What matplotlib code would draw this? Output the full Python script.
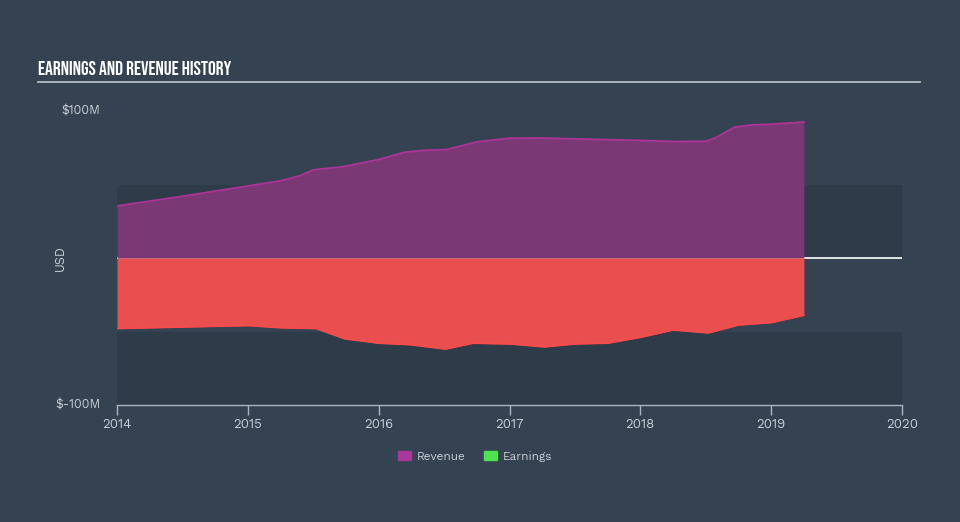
import matplotlib
matplotlib.use("Agg")
import matplotlib.pyplot as plt
from matplotlib.patches import Patch

# Data (USD millions), decimal years
rev_t = [2014.00, 2014.25, 2014.50, 2014.75, 2015.00, 2015.25, 2015.40, 2015.50, 2015.72,
         2016.00, 2016.20, 2016.35, 2016.52, 2016.75, 2017.00, 2017.25, 2017.50, 2017.75,
         2018.00, 2018.25, 2018.50, 2018.58, 2018.72, 2018.85, 2019.00, 2019.25]
rev_v = [35.4, 38.7, 42.0, 45.5, 49.0, 52.5, 56.0, 60.0, 62.0,
         67.0, 72.0, 73.2, 73.8, 79.0, 81.5, 81.6, 81.0, 80.5,
         80.0, 79.2, 79.4, 82.0, 89.0, 90.5, 91.0, 92.5]

earn_t = [2014.00, 2014.25, 2014.50, 2014.75, 2015.00, 2015.25, 2015.52, 2015.74,
          2016.00, 2016.24, 2016.51, 2016.72, 2017.00, 2017.27, 2017.50, 2017.75,
          2018.00, 2018.25, 2018.52, 2018.75, 2019.00, 2019.25]
earn_v = [-48.0, -47.5, -47.0, -46.5, -46.0, -47.5, -48.0, -55.0,
          -58.0, -59.0, -62.0, -58.0, -58.5, -60.5, -58.5, -58.0,
          -54.0, -49.0, -51.0, -45.6, -44.0, -39.0]

years = [2014, 2015, 2016, 2017, 2018, 2019, 2020]
ytick_vals = [100, -100]
ytick_labels = ["$100M", "$-100M"]

BG = "#344251"
BAND = "#2e3b49"
TXT = "#c9d0d8"
FONT = ["Work Sans", "DejaVu Sans"]
TFONT = ["Bebas Neue", "Oswald", "DejaVu Sans"]

fig = plt.figure(figsize=(9.6, 5.22), dpi=100, facecolor=BG)
ax = fig.add_axes([117/960, 1-405/522, (902-117)/960, (405-111)/522])
ax.set_facecolor(BG)
ax.set_xlim(2014, 2020)
ax.set_ylim(-100, 100)

ax.axhspan(0, 50, color=BAND, zorder=0, lw=0)
ax.axhspan(-100, -50, color=BAND, zorder=0, lw=0)
ax.axhline(0, color="white", lw=1.2, zorder=1)

ax.fill_between(rev_t, 0, rev_v, color="#7a3875", lw=0, zorder=2)
ax.plot(rev_t, rev_v, color="#b03399", lw=1.3, zorder=3)
ax.fill_between(earn_t, 0, earn_v, color="#e94f4f", lw=0, zorder=2)
ax.plot(earn_t, earn_v, color="#ff4a4a", lw=1.1, zorder=3)

for s in ["top", "right", "left"]:
    ax.spines[s].set_visible(False)
ax.spines["bottom"].set_color("#aab4c0")
ax.spines["bottom"].set_linewidth(1)

ax.set_xticks(years)
ax.set_xticklabels([str(y) for y in years], family=FONT)
ax.tick_params(axis="x", colors="#aab4c0", labelcolor=TXT, length=7, width=1, labelsize=9.5, pad=2)
ax.set_yticks(ytick_vals)
ax.set_yticklabels(ytick_labels, family=FONT)
ax.tick_params(axis="y", length=0, labelcolor=TXT, labelsize=9, pad=12)
ax.get_yticklabels()[0].set_va("center")
ax.get_yticklabels()[1].set_va("center")

fig.text(60/960, 1-258/522, "USD", rotation=90, color=TXT, fontsize=9, family=FONT,
         ha="center", va="center")

fig.text(38/960, 1-68/522, "EARNINGS AND REVENUE HISTORY", color="white", fontsize=14,
         fontweight="bold", family=TFONT, ha="left", va="center")
fig.add_artist(plt.Line2D([38/960, 920/960], [1-82/522, 1-82/522], color="#b5bcc4", lw=1.3))

handles = [Patch(color="#a8379b", label="Revenue"), Patch(color="#4fe04f", label="Earnings")]
leg = fig.legend(handles=handles, loc="center", bbox_to_anchor=(475/960, 1-456/522), ncol=2,
                 frameon=False, labelcolor=TXT, handlelength=1.1, handleheight=0.9,
                 columnspacing=1.6, handletextpad=0.5, prop={"family": FONT, "size": 8.5})

fig.savefig("out.png", dpi=100, facecolor=BG)
